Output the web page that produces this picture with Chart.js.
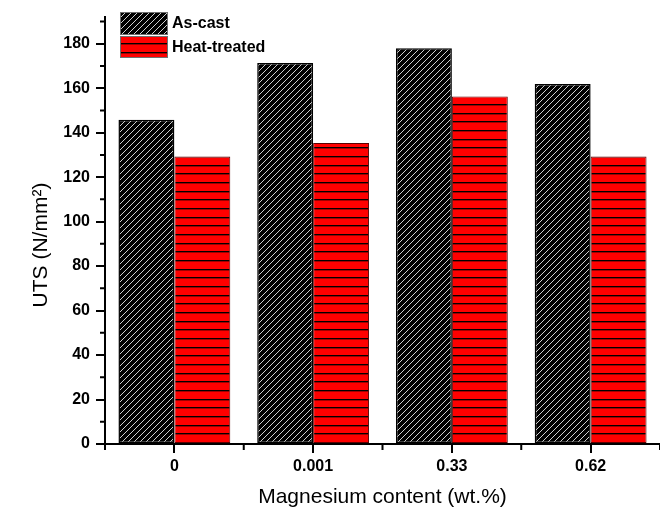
<!DOCTYPE html>
<html>
<head>
<meta charset="utf-8">
<script src="https://cdn.jsdelivr.net/npm/chart.js@4.4.0/dist/chart.umd.min.js"></script>
<style>
    html, body { margin: 0; padding: 0; background: #fff; }
</style>
</head>
<body>
<canvas id="graph" width="660" height="510"></canvas>
<script>
    // valeurs
    var categories = ['0', '0.001', '0.33', '0.62'];
    var as_cast = [145.8, 171.3, 178.0, 161.9];
    var heat_treated = [129.3, 135.3, 156.3, 129.3];
    var series_names = ['As-cast', 'Heat-treated'];
    var y_title = 'UTS (N/mm²)';
    var x_title = 'Magnesium content (wt.%)';

    var font_family = "Arial, 'Liberation Sans', sans-serif";

    //motif noir hachure diagonale
    function make_hatch() {
        var c = document.createElement('canvas');
        c.width = 6; c.height = 6;
        var x = c.getContext('2d');
        x.fillStyle = '#000';
        x.fillRect(0, 0, 6, 6);
        x.strokeStyle = '#cfcfcf';
        x.lineWidth = 1;
        x.beginPath();
        x.moveTo(0, 6); x.lineTo(6, 0);
        x.moveTo(-1, 1); x.lineTo(1, -1);
        x.moveTo(5, 7); x.lineTo(7, 5);
        x.stroke();
        return x.createPattern(c, 'repeat');
    }

    //motif rouge avec lignes horizontales
    function make_lines() {
        var c = document.createElement('canvas');
        c.width = 4; c.height = 26;
        var x = c.getContext('2d');
        x.fillStyle = '#ff0000';
        x.fillRect(0, 0, 4, 26);
        for (const y of [0, 9, 17]) {
            x.fillStyle = '#000';
            x.fillRect(0, y, 4, 1);
            x.fillStyle = '#a00000';
            x.fillRect(0, y + 1, 4, 1);
        }
        return x.createPattern(c, 'repeat');
    }

    var hatch = make_hatch();
    var red_lines = make_lines();

    var extras = {
        id: 'extras',
        afterDraw(chart) {
            var ctx = chart.ctx;
            var area = chart.chartArea;
            var ys = chart.scales.y;
            var xs = chart.scales.x;

            ctx.save();
            ctx.strokeStyle = '#000';
            ctx.lineWidth = 2;
            ctx.beginPath();
            //petites graduations y
            for (var v = 10; v < 192; v += 20) {
                var py = ys.getPixelForValue(v);
                ctx.moveTo(area.left - 5, py);
                ctx.lineTo(area.left, py);
            }
            //petites graduations x entre les categories
            var step = xs.getPixelForValue(1) - xs.getPixelForValue(0);
            for (var k = 0; k <= categories.length; k++) {
                var px = xs.getPixelForValue(0) - step / 2 + k * step;
                ctx.moveTo(px, area.bottom);
                ctx.lineTo(px, area.bottom + 6);
            }
            ctx.stroke();

            //titre y
            ctx.fillStyle = '#000';
            ctx.font = '21px ' + font_family;
            ctx.textAlign = 'center';
            ctx.textBaseline = 'middle';
            ctx.translate(41, 245);
            ctx.rotate(-Math.PI / 2);
            ctx.fillText(y_title, 0, 0);
            ctx.restore();

            //legende
            ctx.save();
            var lx = area.left + 15;
            var boxes = [[12, 22, hatch], [36, 21, red_lines]];
            ctx.font = 'bold 16px ' + font_family;
            ctx.textBaseline = 'middle';
            ctx.textAlign = 'left';
            for (var i = 0; i < boxes.length; i++) {
                var b = boxes[i];
                ctx.fillStyle = b[2];
                ctx.fillRect(lx, b[0], 47, b[1]);
                ctx.strokeStyle = '#707070';
                ctx.lineWidth = 1;
                ctx.strokeRect(lx + 0.5, b[0] + 0.5, 47, b[1]);
                ctx.fillStyle = '#000';
                ctx.fillText(series_names[i], lx + 52, b[0] + b[1] / 2 + 1);
            }
            ctx.restore();
        }
    };

    var chart = new Chart('graph', {
        type: 'bar',
        data: {
            labels: categories,
            datasets: [
                {
                    label: series_names[0],
                    data: as_cast,
                    backgroundColor: hatch,
                    borderColor: '#000',
                    borderWidth: 1.5,
                    borderSkipped: false
                },
                {
                    label: series_names[1],
                    data: heat_treated,
                    backgroundColor: red_lines,
                    borderColor: '#5a0000',
                    borderWidth: 1,
                    borderSkipped: false
                }
            ]
        },
        options: {
            responsive: false,
            animation: false,
            categoryPercentage: 0.806,
            barPercentage: 1.0,
            layout: { padding: { top: 17, right: 0, left: 0, bottom: 0 } },
            plugins: {
                legend: { display: false },
                tooltip: { enabled: false }
            },
            scales: {
                x: {
                    afterFit: (s) => { s.height = 66; },
                    grid: {
                        display: true,
                        drawOnChartArea: false,
                        drawTicks: true,
                        tickLength: 9,
                        offset: false,
                        color: '#000',
                        lineWidth: 2
                    },
                    border: { display: true, color: '#000', width: 2 },
                    ticks: {
                        color: '#000',
                        padding: 4,
                        font: { family: font_family, size: 16, weight: 'bold' }
                    },
                    title: {
                        display: true,
                        text: x_title,
                        color: '#000',
                        padding: { top: 0, bottom: 0 },
                        font: { family: font_family, size: 21 }
                    }
                },
                y: {
                    min: 0,
                    max: 192,
                    afterFit: (s) => { s.width = 105; },
                    grid: {
                        display: true,
                        drawOnChartArea: false,
                        drawTicks: true,
                        tickLength: 9,
                        color: '#000',
                        lineWidth: 2
                    },
                    border: { display: true, color: '#000', width: 2 },
                    ticks: {
                        stepSize: 20,
                        includeBounds: false,
                        color: '#000',
                        padding: 6,
                        font: { family: font_family, size: 16, weight: 'bold' }
                    }
                }
            }
        },
        plugins: [extras]
    });
</script>
</body>
</html>
